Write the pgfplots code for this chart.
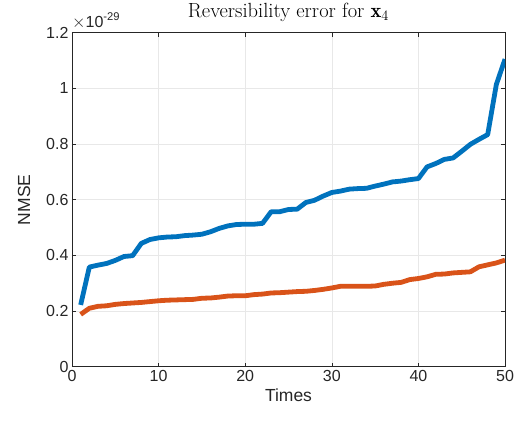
\documentclass[border=0pt]{standalone}
\usepackage{fontspec}
\setsansfont{Liberation Sans}
\usepackage{pgfplots}
\pgfplotsset{compat=1.18}
\definecolor{mblue}{rgb}{0,0.447,0.741}
\definecolor{morange}{rgb}{0.85,0.325,0.098}
\definecolor{mgray}{rgb}{0.15,0.15,0.15}
\begin{document}
\begin{tikzpicture}
\begin{axis}[
    scale only axis,
    width=433pt, height=334pt,
    xmin=0, xmax=50, ymin=0, ymax=1.2,
    xtick={0,10,...,50},
    ytick={0,0.2,...,1.2},
    tick align=inside,
    major tick length=4pt,
    grid=major,
    grid style={line width=0.6pt, black!9},
    axis line style={mgray, line width=0.6pt},
    tick style={mgray, line width=0.6pt},
    /pgf/number format/assume math mode=true,
    tick label style={font=\sffamily\fontsize{16}{16}\selectfont, text=mgray},
    xlabel={Times}, ylabel={NMSE},
    ylabel shift=9pt,
    label style={font=\sffamily\fontsize{17.5}{17.5}\selectfont, text=mgray},
    title={Reversibility error for $\mathbf{x}_4$},
    title style={font=\fontsize{20.5}{20.5}\selectfont, at={(0.5,1)}, anchor=base, yshift=9pt},
    every axis plot/.append style={line width=4.8pt, line join=round},
  ]
  \addplot[mblue] coordinates {
    (1,0.222) (2,0.358) (3,0.365) (4,0.371) (5,0.382) (6,0.396) (7,0.399)
    (8,0.443) (9,0.457) (10,0.463) (11,0.466) (12,0.467) (13,0.471) (14,0.473)
    (15,0.476) (16,0.485) (17,0.497) (18,0.506) (19,0.511) (20,0.512)
    (21,0.512) (22,0.515) (23,0.557) (24,0.557) (25,0.565) (26,0.566)
    (27,0.590) (28,0.598) (29,0.613) (30,0.626) (31,0.631) (32,0.638)
    (33,0.640) (34,0.641) (35,0.649) (36,0.656) (37,0.664) (38,0.667)
    (39,0.672) (40,0.676) (41,0.718) (42,0.730) (43,0.745) (44,0.750)
    (45,0.774) (46,0.799) (47,0.817) (48,0.834) (49,1.014) (50,1.105)
  };
  \addplot[morange] coordinates {
    (1,0.188) (2,0.210) (3,0.217) (4,0.219) (5,0.224) (6,0.227) (7,0.229)
    (8,0.231) (9,0.234) (10,0.237) (11,0.239) (12,0.240) (13,0.241) (14,0.242)
    (15,0.246) (16,0.247) (17,0.250) (18,0.254) (19,0.255) (20,0.255)
    (21,0.259) (22,0.261) (23,0.265) (24,0.266) (25,0.268) (26,0.270)
    (27,0.271) (28,0.274) (29,0.278) (30,0.283) (31,0.289) (32,0.289)
    (33,0.289) (34,0.289) (35,0.290) (36,0.296) (37,0.300) (38,0.303)
    (39,0.313) (40,0.317) (41,0.323) (42,0.332) (43,0.333) (44,0.337)
    (45,0.339) (46,0.341) (47,0.359) (48,0.366) (49,0.373) (50,0.383)
  };
\end{axis}
\node[anchor=south west, inner sep=0pt, text=mgray, font=\sffamily\fontsize{16}{16}\selectfont]
  at ([xshift=0pt,yshift=4pt]current axis.north west) {$\times$10\textsuperscript{-29}};
\path ([xshift=-72pt,yshift=-61pt]current axis.south west) rectangle ([xshift=18pt,yshift=31pt]current axis.north east);
\end{tikzpicture}
\end{document}
